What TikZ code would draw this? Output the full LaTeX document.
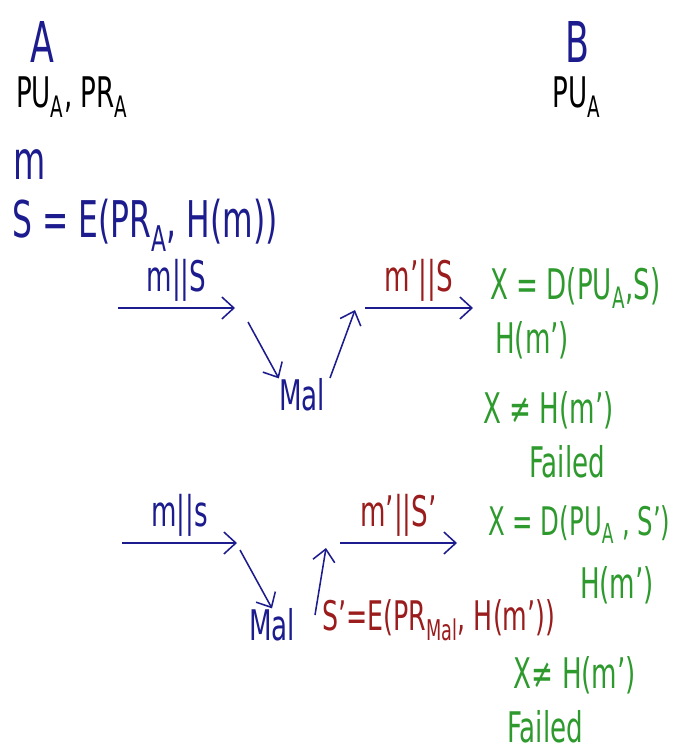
\documentclass[tikz,border=0pt]{standalone}
\usepackage{fontspec}
\setmainfont[FakeStretch=0.62]{DejaVu Sans}
\usetikzlibrary{arrows.meta, positioning}
\definecolor{tintaAzul}{HTML}{1C1C8E}
\definecolor{tintaRoja}{HTML}{9A1C1C}
\definecolor{tintaVerde}{HTML}{2E9A2E}
\tikzset{
  txtBase/.style={inner sep=0pt, font=\fontsize{30}{32}\selectfont},
  txtNombre/.style={txtBase, text=tintaAzul, font=\fontsize{40}{42}\selectfont},
  txtClave/.style={txtBase, text=black},
  txtAzul/.style={txtBase, text=tintaAzul},
  txtRojo/.style={txtBase, text=tintaRoja},
  txtVerde/.style={txtBase, text=tintaVerde},
  flecha/.style={-{Straight Barb[length=3mm, width=5.5mm]}, line width=1.1pt, tintaAzul},
}
\newcommand{\sub}[1]{\textsubscript{#1}}

\begin{document}
\begin{tikzpicture}[x=0.025cm, y=-0.025cm]
  \useasboundingbox (0,0) rectangle (676,751);
  % parties
  \node[txtNombre] (nomA) at (42,42) {A};
  \node[txtClave] (claveA) at (72,97) {PU\sub{A}, PR\sub{A}};
  \node[txtNombre] (nomB) at (577,42) {B};
  \node[txtClave] (claveB) at (577,97) {PU\sub{A}};
  % signing at A
  \node[txtAzul, font=\fontsize{38}{40}\selectfont] (msg) at (30,165) {m};
  \node[txtAzul, anchor=west, font=\fontsize{36}{38}\selectfont] (firma) at (12,225) {S = E(PR\sub{A}, H(m))};
  % first run
  \coordinate (p1) at (118,308);
  \coordinate (p2) at (235,308);
  \coordinate (p3) at (248,322);
  \node[txtAzul] (mal1) at (302,395) {Mal};
  \coordinate (p4) at (330,378);
  \coordinate (p5) at (355,310);
  \coordinate (p6) at (365,308);
  \coordinate (p7) at (473,308);
  \draw[flecha] (p1) -- node[txtAzul, above=4pt] (env1) {m||S} (p2);
  \draw[flecha] (p3) -- (mal1.north west);
  \draw[flecha] (p4) -- (p5);
  \draw[flecha] (p6) -- node[txtRojo, above=4pt] (mod1) {m'||S} (p7);
  \node[txtVerde, anchor=west] (dec1) at (490,288) {X = D(PU\sub{A},S)};
  \node[txtVerde, anchor=west] (hash1) at (495,340) {H(m')};
  \node[txtVerde, anchor=west] (comp1) at (483,410) {X ≠ H(m')};
  \node[txtVerde] (fallo1) at (567,462) {Failed};
  % second run
  \coordinate (q1) at (122,543);
  \coordinate (q2) at (237,543);
  \coordinate (q3) at (240,550);
  \node[txtAzul] (mal2) at (272,625) {Mal};
  \coordinate (q4) at (315,615);
  \coordinate (q5) at (326,548);
  \coordinate (q6) at (340,543);
  \coordinate (q7) at (457,543);
  \draw[flecha] (q1) -- node[txtAzul, above=4pt] (env2) {m||s} (q2);
  \draw[flecha] (q3) -- (mal2.north);
  \draw[flecha] (q4) -- (q5);
  \draw[flecha] (q6) -- node[txtRojo, above=4pt] (mod2) {m'||S'} (q7);
  \node[txtRojo, anchor=west, font=\fontsize{29}{31}\selectfont] (firma2) at (322,620) {S'=E(PR\sub{Mal}, H(m'))};
  \node[txtVerde, anchor=west, font=\fontsize{28}{30}\selectfont] (dec2) at (488,525) {X = D(PU\sub{A} , S')};
  \node[txtVerde] (hash2) at (617,585) {H(m')};
  \node[txtVerde] (comp2) at (575,675) {X≠ H(m')};
  \node[txtVerde] (fallo2) at (545,727) {Failed};
\end{tikzpicture}
\end{document}
